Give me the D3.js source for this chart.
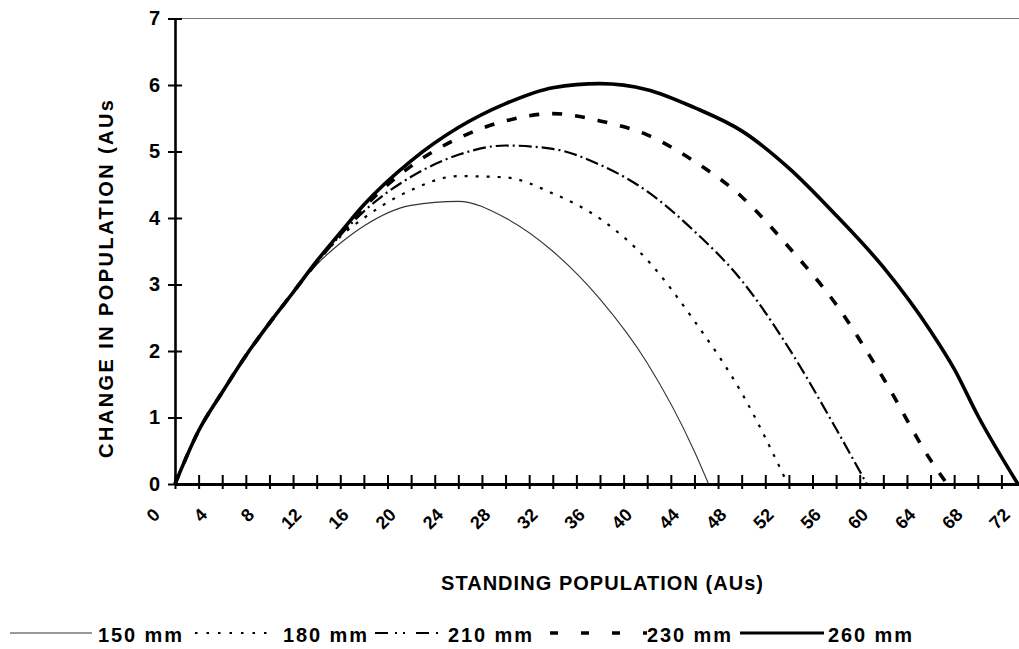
<!DOCTYPE html>
<html>
<head>
<meta charset="utf-8">
<script src="https://cdn.jsdelivr.net/npm/d3@7/dist/d3.min.js"></script>
<style>
  html, body { margin: 0; padding: 0; background: #fff; }
  svg { display: block; }
  text { font-family: "Liberation Sans", Arial, Helvetica, sans-serif; font-weight: bold; fill: #000; }
</style>
</head>
<body>
<svg id="chart" width="1019" height="649"></svg>
<script>
// Standing population (AUs) at which each curve is sampled
const standing = [0, 2, 4, 6, 8, 10, 12, 14, 16, 20, 24, 28, 32, 36, 40, 44, 48, 52, 56, 60, 64, 66, 68];

// Change in population (AUs) for each rainfall level
const change150 = [0, 0.8, 1.38, 1.93, 2.42, 2.88, 3.30, 3.62, 3.88, 4.19, 4.25, 4.00, 3.50, 2.78, 1.82, 0.49];
const change180 = [0, 0.8, 1.38, 1.93, 2.42, 2.88, 3.32, 3.72, 4.00, 4.42, 4.63, 4.61, 4.37, 3.99, 3.37, 2.45, 1.37];
const change210 = [0, 0.8, 1.38, 1.93, 2.42, 2.88, 3.33, 3.74, 4.10, 4.62, 4.95, 5.09, 5.04, 4.80, 4.40, 3.80, 3.06, 2.04, 0.83];
const change230 = [0, 0.8, 1.38, 1.93, 2.42, 2.88, 3.34, 3.76, 4.16, 4.78, 5.20, 5.46, 5.57, 5.46, 5.25, 4.85, 4.32, 3.56, 2.70, 1.59, 0.36];
const change260 = [0, 0.8, 1.38, 1.93, 2.42, 2.88, 3.35, 3.78, 4.20, 4.86, 5.36, 5.72, 5.96, 6.02, 5.93, 5.66, 5.31, 4.75, 4.04, 3.26, 2.30, 1.73, 1.03];

// Standing population where each curve returns to zero
const zeroCrossing = [45.2, 51.9, 58.6, 65.4, 71.4];

const seriesNames = ["150 mm", "180 mm", "210 mm", "230 mm", "260 mm"];
const seriesValues = [change150, change180, change210, change230, change260];

const yTicks = [0, 1, 2, 3, 4, 5, 6, 7];
const xTicks = d3.range(0, 73, 2);
const xLabels = d3.range(0, 73, 4);

const xTitle = "STANDING POPULATION (AUs)";
const yTitle = "CHANGE IN POPULATION (AUs";

// Line styles per series (plot / legend)
const styles = [
  { width: 1.1, dash: null, legendDash: null, legendWidth: 1, color: "#333" },
  { width: 2.2, dash: "3,8", legendDash: "2.5,9", legendWidth: 2.2, color: "#000" },
  { width: 2.2, dash: "13,4,2,4", legendDash: "13,7,2,6,2,11", legendWidth: 2.2, color: "#000" },
  { width: 3.6, dash: "10,13", legendDash: "8,23", legendWidth: 3.6, color: "#000" },
  { width: 3.6, dash: null, legendDash: null, legendWidth: 3, color: "#000" }
];

const svg = d3.select("#chart");

const x = d3.scaleLinear().domain([0, 72]).range([175, 1025]);
const y = d3.scaleLinear().domain([0, 7]).range([484, 18.5]);

// Top border of the plot area
svg.append("line")
  .attr("x1", x(0)).attr("x2", 1019)
  .attr("y1", y(7)).attr("y2", y(7))
  .attr("stroke", "#777").attr("stroke-width", 1.2);

// Curves
const line = d3.line()
  .x(d => x(d[0]))
  .y(d => y(d[1]))
  .curve(d3.curveMonotoneX);

seriesValues.forEach((vals, i) => {
  const pts = vals.map((v, j) => [standing[j], v]);
  pts.push([zeroCrossing[i], 0]);
  const st = styles[i];
  svg.append("path")
    .datum(pts)
    .attr("d", line)
    .attr("fill", "none")
    .attr("stroke", st.color)
    .attr("stroke-width", st.width)
    .attr("stroke-dasharray", st.dash)
    .attr("stroke-linejoin", "round");
});

// Y axis
const yAxis = svg.append("g")
  .attr("transform", `translate(${x(0)},0)`)
  .call(d3.axisLeft(y).tickValues(yTicks).tickSize(7).tickSizeOuter(0).tickPadding(8).tickFormat(d3.format("d")));
yAxis.select(".domain").attr("stroke", "#000").attr("stroke-width", 2.6);
yAxis.selectAll(".tick line").attr("x1", 7).attr("x2", -7).attr("stroke", "#000").attr("stroke-width", 2);
yAxis.selectAll(".tick text")
  .style("font-family", "'Liberation Sans', Arial, sans-serif")
  .style("font-weight", "bold")
  .style("font-size", "20px")
  .attr("fill", "#000");

// X axis (ticks every 2, labels every 4 drawn slanted)
const xAxis = svg.append("g")
  .attr("transform", `translate(0,${y(0)})`)
  .call(d3.axisBottom(x).tickValues(xTicks).tickSize(5).tickSizeOuter(0).tickFormat(""));
xAxis.select(".domain").attr("stroke", "#000").attr("stroke-width", 2.8);
xAxis.selectAll(".tick line").attr("y1", -9).attr("y2", 5).attr("stroke", "#000").attr("stroke-width", 2);

svg.append("g")
  .selectAll("text")
  .data(xLabels)
  .join("text")
  .attr("x", 0).attr("y", 0)
  .attr("text-anchor", "end")
  .attr("transform", d => `translate(${x(d) - 14},${y(0) + 32}) rotate(-45)`)
  .style("font-size", "18px")
  .text(d => d);

// Axis titles
svg.append("text")
  .attr("x", 602).attr("y", 590)
  .attr("text-anchor", "middle")
  .attr("textLength", 322).attr("lengthAdjust", "spacing")
  .style("font-size", "20px")
  .text(xTitle);

svg.append("text")
  .attr("transform", "translate(113,279) rotate(-90)")
  .attr("text-anchor", "middle")
  .attr("textLength", 358).attr("lengthAdjust", "spacing")
  .style("font-size", "20px")
  .text(yTitle);

// Legend
const legendY = 633;
const legendItems = [
  { x1: 10, x2: 92, tx: 98 },
  { x1: 195, x2: 273, tx: 283 },
  { x1: 375, x2: 441, tx: 448 },
  { x1: 550, x2: 647, tx: 647 },
  { x1: 740, x2: 824, tx: 828 }
];
legendItems.forEach((it, i) => {
  const st = styles[i];
  svg.append("line")
    .attr("x1", it.x1).attr("x2", it.x2)
    .attr("y1", legendY).attr("y2", legendY)
    .attr("stroke", st.color)
    .attr("stroke-width", st.legendWidth)
    .attr("stroke-dasharray", st.legendDash);
  svg.append("text")
    .attr("x", it.tx).attr("y", legendY + 8.5)
    .attr("textLength", 84).attr("lengthAdjust", "spacing")
    .style("font-size", "20px")
    .text(seriesNames[i]);
});
</script>
</body>
</html>
